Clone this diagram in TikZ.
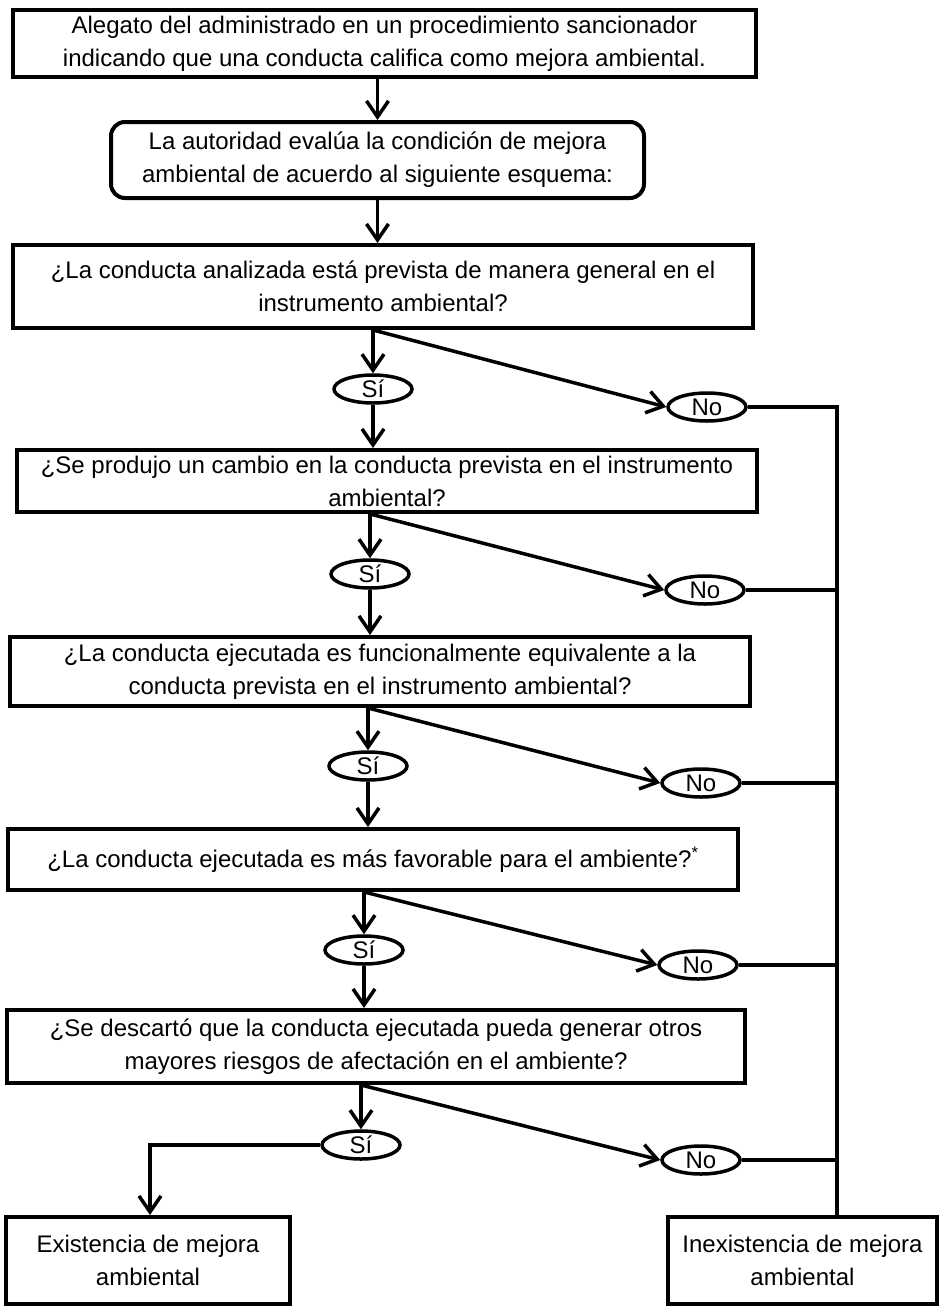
\documentclass[tikz,border=0pt]{standalone}
\usepackage{fontspec}
\setmainfont{Liberation Sans}
\usetikzlibrary{arrows.meta, shapes.geometric}

\begin{document}
\begin{tikzpicture}[x=1pt, y=-1pt,
  font=\fontsize{24}{33}\selectfont,
  caja/.style={draw, line width=4pt, align=center, inner sep=0pt},
  rcaja/.style={caja, rounded corners=14pt},
  resp/.style={draw, ellipse, line width=3.5pt, inner sep=0pt,
    minimum width=78pt, minimum height=28pt, text height=17pt, text depth=0pt},
  flecha/.style={line width=3.5pt, -{Straight Barb[length=16pt,width=22pt]}},
  linea/.style={line width=3.5pt}]
  \fill[white] (0,0) rectangle (939,1307);
  \useasboundingbox (0,0) rectangle (939,1307);

  \node[caja, minimum width=743pt, minimum height=67pt] (alegato) at (384.5,43.5)
    {Alegato del administrado en un procedimiento sancionador\\indicando que una conducta califica como mejora ambiental.};
  \node[rcaja, minimum width=533pt, minimum height=76pt] (autoridad) at (377.5,160)
    {La autoridad evalúa la condición de mejora\\ambiental de acuerdo al siguiente esquema:};
  \node[caja, minimum width=740pt, minimum height=83pt] (preg1) at (383,286.5)
    {¿La conducta analizada está prevista de manera general en el\\instrumento ambiental?};
  \node[caja, minimum width=740pt, minimum height=62pt] (preg2) at (387,481)
    {¿Se produjo un cambio en la conducta prevista en el instrumento\\ambiental?};
  \node[caja, minimum width=740pt, minimum height=69pt] (preg3) at (380,671.5)
    {¿La conducta ejecutada es funcionalmente equivalente a la\\conducta prevista en el instrumento ambiental?};
  \node[caja, minimum width=730pt, minimum height=61pt] (preg4) at (373,859.5)
    {¿La conducta ejecutada es más favorable para el ambiente?\textsuperscript{*}};
  \node[caja, minimum width=738pt, minimum height=73pt] (preg5) at (376,1046.5)
    {¿Se descartó que la conducta ejecutada pueda generar otros\\mayores riesgos de afectación en el ambiente?};
  \node[caja, minimum width=284pt, minimum height=87pt] (existe) at (148,1260.5)
    {Existencia de mejora\\ambiental};
  \node[caja, minimum width=269pt, minimum height=87pt] (noexiste) at (802.5,1260.5)
    {Inexistencia de mejora\\ambiental};

  \node[resp] (si1) at (373,389) {Sí};
  \node[resp] (si2) at (370,574) {Sí};
  \node[resp] (si3) at (368,766) {Sí};
  \node[resp] (si4) at (364,950) {Sí};
  \node[resp] (si5) at (361,1145) {Sí};
  \node[resp] (no1) at (707,407) {No};
  \node[resp] (no2) at (705,590) {No};
  \node[resp] (no3) at (701,783) {No};
  \node[resp] (no4) at (698,965) {No};
  \node[resp] (no5) at (701,1160) {No};
  \coordinate (ramal) at (837,407);
  \coordinate (baja) at (150,1145);

  \draw[flecha] (alegato.south -| autoridad.north) -- (autoridad.north);
  \draw[flecha] (autoridad.south) -- (autoridad.south |- preg1.north);
  \draw[flecha] (preg1.south -| si1.north) -- (si1.north);
  \draw[flecha] (preg1.south -| si1.north) -- (no1.west);
  \draw[flecha] (si1.south) -- (si1.south |- preg2.north);
  \draw[flecha] (preg2.south -| si2.north) -- (si2.north);
  \draw[flecha] (preg2.south -| si2.north) -- (no2.west);
  \draw[flecha] (si2.south) -- (si2.south |- preg3.north);
  \draw[flecha] (preg3.south -| si3.north) -- (si3.north);
  \draw[flecha] (preg3.south -| si3.north) -- (no3.west);
  \draw[flecha] (si3.south) -- (si3.south |- preg4.north);
  \draw[flecha] (preg4.south -| si4.north) -- (si4.north);
  \draw[flecha] (preg4.south -| si4.north) -- (no4.west);
  \draw[flecha] (si4.south) -- (si4.south |- preg5.north);
  \draw[flecha] (preg5.south -| si5.north) -- (si5.north);
  \draw[flecha] (preg5.south -| si5.north) -- (no5.west);
  \draw[flecha] (si5.west) -- (baja) -- (baja |- existe.north);

  \draw[linea] (no1.east) -- (ramal) -- (ramal |- noexiste.north);
  \draw[linea] (no2.east) -- (no2.east -| ramal);
  \draw[linea] (no3.east) -- (no3.east -| ramal);
  \draw[linea] (no4.east) -- (no4.east -| ramal);
  \draw[linea] (no5.east) -- (no5.east -| ramal);
\end{tikzpicture}
\end{document}
